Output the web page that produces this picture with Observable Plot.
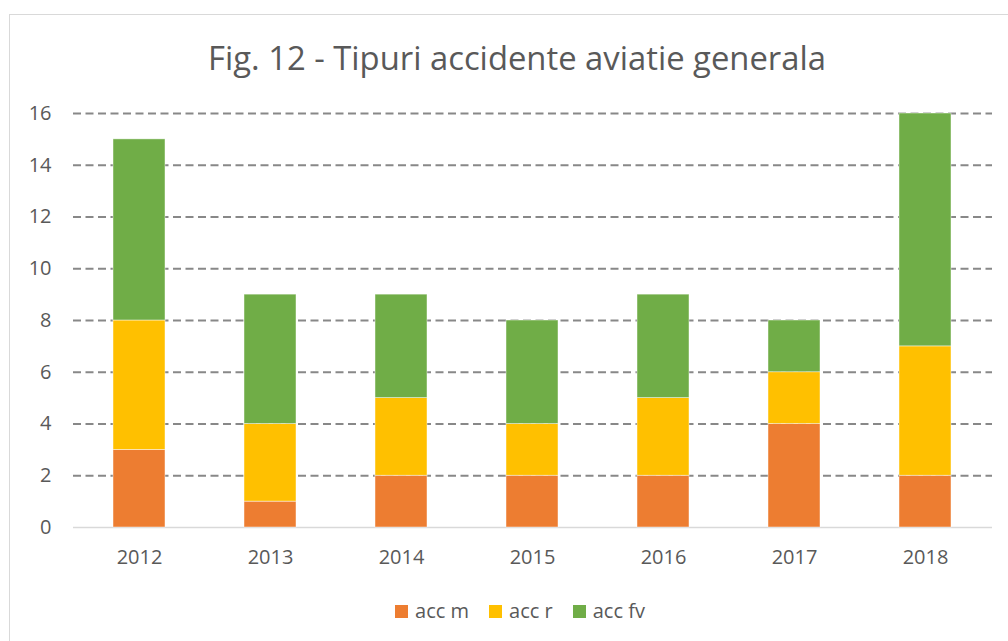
<!DOCTYPE html>
<html>
<head>
<meta charset="utf-8">
<script src="https://cdn.jsdelivr.net/npm/d3@7"></script>
<script src="https://cdn.jsdelivr.net/npm/@observablehq/plot@0.6"></script>
<style>
  html, body { margin: 0; padding: 0; background: #fff; }
  body { width: 1008px; height: 641px; overflow: hidden; position: relative; font-family: "Open Sans", sans-serif; color: #595959; }
  #frame { position: absolute; left: 9px; top: 14px; width: 1020px; height: 660px; border: 1.5px solid #d9d9d9; box-sizing: border-box; }
  #title { position: absolute; left: 0; width: 1034px; top: 32px; text-align: center; font-size: 32.8px; line-height: 52px; color: #595959; margin: 0; font-weight: normal; }
  #chart { position: absolute; left: 0; top: 95px; }
  #legend { position: absolute; left: 0; width: 1040px; top: 597px; display: flex; justify-content: center; gap: 20px; font-size: 20px; line-height: 28px; }
  .item { display: flex; align-items: center; gap: 7px; }
  .sw { width: 13px; height: 13px; display: inline-block; }
</style>
</head>
<body>
<div id="frame"></div>
<h2 id="title">Fig. 12 - Tipuri accidente aviatie generala</h2>
<div id="chart"></div>
<div id="legend"></div>
<script>
const years = ["2012", "2013", "2014", "2015", "2016", "2017", "2018"];
const accM = [3, 1, 2, 2, 2, 4, 2];
const accR = [5, 3, 3, 2, 3, 2, 5];
const accFv = [7, 5, 4, 4, 4, 2, 9];
const seriesNames = ["acc m", "acc r", "acc fv"];
const seriesColors = ["#ED7D31", "#FFC000", "#70AD47"];
const yTicks = [0, 2, 4, 6, 8, 10, 12, 14, 16];

const seriesValues = [accM, accR, accFv];
const rows = [];
seriesNames.forEach((s, i) => {
  years.forEach((y, j) => rows.push({year: y, series: s, value: seriesValues[i][j]}));
});

const chart = Plot.plot({
  width: 1008,
  height: 485,
  marginLeft: 73,
  marginRight: 16,
  marginTop: 18,
  marginBottom: 53,
  style: {fontFamily: "Open Sans, sans-serif", fontSize: "20px", color: "#595959", background: "transparent"},
  x: {domain: years, paddingInner: 0.6, paddingOuter: 0.3, label: null},
  y: {domain: [0, 16], label: null},
  color: {domain: seriesNames, range: seriesColors},
  marks: [
    Plot.ruleY(yTicks.filter(d => d > 0), {stroke: "#888888", strokeWidth: 1.8, strokeDasharray: "8,4.5"}),
    Plot.ruleY([0], {stroke: "#d9d9d9", strokeWidth: 1.5}),
    Plot.barY(rows, Plot.stackY({x: "year", y: "value", fill: "series", order: seriesNames, stroke: "white", strokeWidth: 0.75, strokeOpacity: 0.6})),
    Plot.axisY({ticks: yTicks, tickSize: 0, tickPadding: 22, tickFormat: d => String(d), fill: "#595959", fontSize: 20}),
    Plot.axisX({tickSize: 0, tickPadding: 22, fill: "#595959", fontSize: 20})
  ]
});
document.getElementById("chart").appendChild(chart);

const legend = document.getElementById("legend");
seriesNames.forEach((s, i) => {
  const it = document.createElement("div");
  it.className = "item";
  const sw = document.createElement("span");
  sw.className = "sw";
  sw.style.background = seriesColors[i];
  const t = document.createElement("span");
  t.textContent = s;
  it.appendChild(sw);
  it.appendChild(t);
  legend.appendChild(it);
});
</script>
</body>
</html>
